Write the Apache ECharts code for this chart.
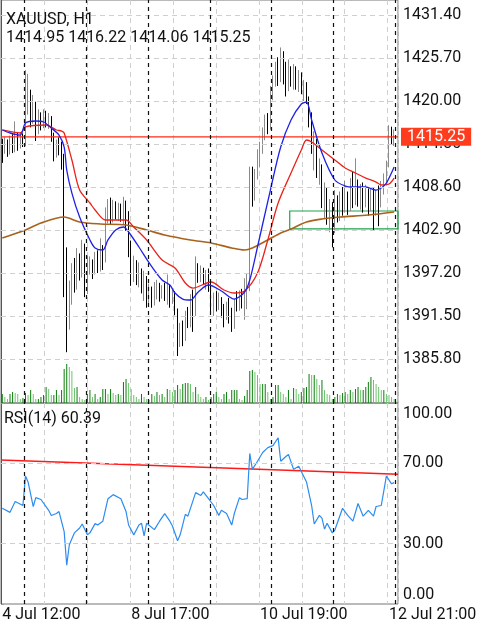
<!DOCTYPE html>
<html>
<head>
<meta charset="utf-8">
<title>XAUUSD, H1</title>
<script src="https://cdn.jsdelivr.net/npm/echarts@6/dist/echarts.min.js"></script>
<style>
    html, body { margin: 0; padding: 0; background: #fff; }
    #chart1 { width: 483px; height: 625px; }
</style>
</head>
<body>
<div id="chart1"></div>
<script>
var symbolName = 'XAUUSD, H1';
var days = ['4 Jul', '5 Jul', '8 Jul', '9 Jul', '10 Jul', '11 Jul', '12 Jul'];
var firstDayHours = [12, 20];      // 4 Jul only traded 12:00 - 20:00

// price axis labels
var priceTicks = [1385.80, 1391.50, 1397.20, 1402.90, 1408.60, 1414.30, 1420.00, 1425.70, 1431.40];
var rsiTicks = [0, 30, 70, 100];

// hourly bars
var opens = [1414.2,1413.6,1414.4,1413.2,1414.6,1413.8,1414.9,1414.2,1415.0,1414.6,
    1419.5,1420.8,1418.2,1419.6,1416.0,1417.9,1416.8,1418.3,1417.1,1417.8,
    1415.3,1413.2,1414.1,1413.4,1412.2,1396.5,1391.0,1394.6,1396.8,1395.5,
    1398.6,1397.0,1400.2,1396.0,1397.8,1398.6,1397.4,1398.8,1398.0,1399.6,
    1399.0,1404.5,1405.8,1404.6,1406.2,1405.0,1406.0,1404.8,1406.3,1405.1,
    1400.2,1397.6,1398.4,1396.5,1397.3,1395.2,1396.2,1393.8,1395.0,1393.4,
    1394.6,1395.6,1394.2,1395.1,1394.0,1395.4,1393.8,1394.5,1392.0,1388.0,
    1389.8,1388.6,1391.4,1390.6,1393.8,1392.0,1397.6,1396.4,1397.5,1396.2,
    1397.0,1395.4,1393.2,1394.0,1392.6,1393.7,1392.2,1391.4,1392.8,1392.0,
    1390.2,1393.2,1392.6,1394.2,1393.4,1394.8,1395.6,1409.8,1407.6,1410.2,
    1412.0,1413.8,1415.6,1417.4,1416.8,1420.6,1422.3,1424.9,1423.0,1425.9,
    1423.4,1421.6,1424.4,1422.8,1424.0,1422.2,1423.1,1421.4,1422.2,1420.2,
    1418.0,1413.8,1414.6,1410.4,1411.2,1406.6,1408.0,1405.0,1406.2,1403.0,
    1406.4,1404.6,1407.2,1405.6,1407.0,1405.8,1407.9,1406.6,1408.6,1407.2,
    1408.4,1406.4,1407.8,1406.0,1407.6,1405.2,1407.4,1406.2,1408.4,1409.2,
    1411.6,1416.0,1414.95];
var closes = [1413.6,1414.4,1413.2,1414.6,1413.8,1414.9,1414.2,1415.0,1414.6,1419.5,
    1420.8,1418.2,1419.6,1416.0,1417.9,1416.8,1418.3,1417.1,1417.8,1415.3,
    1413.2,1414.1,1413.4,1412.2,1396.5,1391.0,1394.6,1396.8,1395.5,1398.6,
    1397.0,1400.2,1396.0,1397.8,1398.6,1397.4,1398.8,1398.0,1399.6,1399.0,
    1404.5,1405.8,1404.6,1406.2,1405.0,1406.0,1404.8,1406.3,1405.1,1400.2,
    1397.6,1398.4,1396.5,1397.3,1395.2,1396.2,1393.8,1395.0,1393.4,1394.6,
    1395.6,1394.2,1395.1,1394.0,1395.4,1393.8,1394.5,1392.0,1388.0,1389.8,
    1388.6,1391.4,1390.6,1393.8,1392.0,1397.6,1396.4,1397.5,1396.2,1397.0,
    1395.4,1393.2,1394.0,1392.6,1393.7,1392.2,1391.4,1392.8,1392.0,1390.2,
    1393.2,1392.6,1394.2,1393.4,1394.8,1395.6,1409.8,1407.6,1410.2,1412.0,
    1413.8,1415.6,1417.4,1416.8,1420.6,1422.3,1424.9,1423.0,1425.9,1423.4,
    1421.6,1424.4,1422.8,1424.0,1422.2,1423.1,1421.4,1422.2,1420.2,1418.0,
    1413.8,1414.6,1410.4,1411.2,1406.6,1408.0,1405.0,1406.2,1403.0,1406.4,
    1404.6,1407.2,1405.6,1407.0,1405.8,1407.9,1406.6,1408.6,1407.2,1408.4,
    1406.4,1407.8,1406.0,1407.6,1405.2,1407.4,1406.2,1408.4,1409.2,1411.6,
    1416.0,1414.95,1415.25];
var lows = [1411.8,1413.0,1412.6,1412.9,1413.1,1413.2,1413.4,1413.7,1413.9,1414.0,
    1418.2,1416.5,1417.0,1414.7,1415.6,1416.1,1416.4,1416.5,1416.3,1414.6,
    1412.0,1412.5,1412.8,1410.9,1394.0,1386.7,1389.7,1393.0,1394.6,1395.0,
    1396.2,1396.6,1394.0,1394.4,1397.0,1396.4,1397.0,1397.2,1397.4,1397.6,
    1398.6,1403.8,1403.6,1403.9,1404.3,1404.1,1404.0,1403.6,1402.8,1399.3,
    1395.5,1396.0,1395.6,1395.3,1394.5,1393.5,1392.6,1393.0,1392.6,1392.9,
    1393.7,1393.4,1393.8,1393.5,1393.0,1392.6,1393.1,1391.6,1386.2,1387.4,
    1387.5,1388.2,1389.9,1390.0,1389.4,1391.5,1395.9,1396.0,1395.7,1395.0,
    1394.7,1392.0,1391.5,1392.1,1392.3,1391.3,1390.0,1391.0,1390.5,1389.4,
    1389.8,1392.1,1392.2,1392.5,1391.0,1392.4,1394.8,1406.0,1406.8,1409.6,
    1411.2,1413.0,1414.8,1415.6,1416.2,1420.1,1421.9,1422.0,1422.5,1422.2,
    1420.6,1421.3,1421.9,1421.5,1421.5,1421.2,1420.9,1420.0,1419.6,1416.5,
    1413.0,1410.8,1409.8,1408.9,1405.8,1404.4,1403.6,1402.6,1400.6,1402.5,
    1403.9,1404.1,1404.8,1405.2,1404.9,1405.4,1405.8,1406.2,1406.0,1405.6,
    1405.2,1405.9,1404.8,1405.4,1402.8,1404.8,1403.4,1405.9,1407.6,1408.8,
    1411.2,1414.3,1414.06];
var highs = [1415.0,1415.2,1414.9,1415.4,1415.6,1417.3,1415.8,1415.9,1415.7,1424.1,
    1423.6,1421.5,1420.8,1419.9,1418.9,1418.5,1418.9,1418.7,1418.4,1418.0,
    1415.8,1414.9,1415.2,1414.6,1413.0,1400.6,1396.2,1398.5,1399.2,1400.5,
    1399.8,1401.6,1401.1,1399.5,1399.4,1399.0,1400.0,1400.2,1401.8,1400.9,
    1405.9,1407.0,1407.2,1406.9,1406.7,1406.5,1406.4,1407.3,1406.8,1405.4,
    1401.5,1399.5,1398.9,1398.6,1397.8,1397.5,1396.8,1395.8,1395.4,1396.0,
    1396.3,1395.9,1395.6,1395.9,1397.0,1395.7,1395.0,1394.8,1392.5,1390.6,
    1390.9,1392.2,1392.7,1394.4,1395.0,1399.4,1398.5,1398.2,1397.9,1397.6,
    1397.8,1395.9,1394.6,1394.8,1394.6,1394.0,1393.1,1393.4,1393.9,1392.6,
    1393.8,1394.8,1394.9,1395.1,1396.5,1397.2,1411.3,1411.3,1411.0,1413.6,
    1414.6,1416.5,1418.2,1418.4,1422.0,1423.4,1425.2,1425.8,1427.1,1426.6,
    1425.2,1425.5,1424.6,1424.9,1424.6,1424.1,1423.8,1422.8,1422.5,1420.6,
    1418.5,1416.0,1415.0,1412.4,1411.6,1409.2,1408.5,1407.0,1406.6,1408.2,
    1407.5,1408.0,1408.6,1409.4,1408.0,1409.8,1410.6,1412.4,1409.6,1409.0,
    1409.2,1408.9,1408.4,1408.6,1408.6,1408.2,1408.8,1409.4,1410.4,1412.1,
    1416.8,1416.6,1416.22];
var volumes = [9,6,4,9,11,10,9,4,5,
    10,8,13,9,4,4,6,8,16,14,8,
    8,13,8,13,34,39,36,32,15,16,6,4,3,
    9,13,6,9,4,6,14,14,9,
    14,10,8,9,8,21,24,20,14,8,
    6,4,9,6,4,3,9,7,
    11,8,9,6,14,13,11,13,
    18,14,19,20,20,19,11,16,9,6,
    4,6,3,6,9,11,6,4,
    9,11,4,13,13,13,4,3,7,13,
    32,33,31,28,19,19,19,11,
    4,6,18,18,11,9,6,13,4,
    15,14,9,11,15,16,29,28,28,
    24,18,23,13,9,8,4,6,
    9,8,10,11,9,13,11,14,16,13,
    13,16,21,26,23,19,16,13,
    13,9,8,6,4];

// moving averages, read at some bars
var blueBar = [0,3,7,9,13,16,19,22,24,25,27,30,34,36,39,41,44,47,49,53,57,62,65,67,70,73,76,80,85,90,94,96,99,104,108,112,116,118,120,124,129,133,136,141,145,147,149,152];
var blueVal = [1416.16,1415.76,1415.49,1417.08,1417.35,1417.22,1416.42,1415.49,1413.90,1410.85,
    1407.80,1404.62,1401.58,1400.52,1400.25,1401.58,1402.90,1403.30,1402.64,1400.65,
    1398.53,1396.27,1395.61,1394.55,1393.75,1393.62,1394.68,1395.61,1394.81,1393.75,
    1394.68,1396.27,1400.65,1408.20,1413.90,1417.48,1419.60,1419.87,1417.48,1413.11,
    1409.53,1408.73,1408.60,1408.60,1408.20,1408.47,1409.13,1411.25];
var redBar = [0,7,9,17,21,23,24,27,30,34,36,40,44,48,51,56,62,67,71,74,81,86,90,94,99,103,107,112,116,118,120,125,129,133,137,141,145,147,150,152];
var redVal = [1416.16,1415.76,1416.56,1416.82,1416.16,1416.02,1415.76,1412.18,1408.20,1406.48,
    1405.55,1404.23,1404.23,1404.23,1403.30,1401.58,1398.92,1397.86,1395.88,1395.21,
    1396.01,1394.95,1394.55,1394.81,1397.20,1401.58,1406.48,1410.46,1413.51,1414.83,
    1414.57,1413.24,1412.18,1411.12,1410.46,1409.79,1409.26,1408.87,1409.00,1409.79];
var brownBar = [0,9,15,24,30,38,48,56,63,73,81,89,94,97,103,108,112,118,124,131,142,152];
var brownVal = [1401.84,1402.90,1403.83,1404.62,1403.96,1403.70,1403.56,1402.90,1402.24,1401.58,
    1401.18,1400.52,1400.25,1400.52,1401.58,1402.51,1403.04,1403.96,1404.36,1404.62,1404.89,1405.29];

// RSI(14)
var rsiBar = [0,3,5,8,9,10,12,13,15,18,19,21,22,24,25,26,28,30,31,33,
    34,36,37,39,41,43,46,48,49,51,53,54,55,56,59,61,63,65,66,68,
    69,71,72,75,77,78,80,82,84,85,87,89,90,92,93,95,96,97,99,101,
    103,105,107,108,110,111,113,115,118,120,121,123,124,125,126,128,129,132,134,136,
    138,140,142,144,145,147,148,149,151,152];
var rsiVal = [47.6,45.6,51,49,63.7,60.7,48.5,52.9,52,46.6,44,45,46,36,19.3,29.5,35.4,37.8,39.8,34.4,
    35.4,40,39.3,41.2,52.4,54.4,52.4,46,39.3,34.4,39.3,40.2,33.9,40.2,37,41.2,45,41.2,38.8,31.5,
    34.4,44.6,43.7,55.4,54,55.8,52.4,49,44.1,46.6,45,39.3,45,52.9,52,52.4,74.9,67,71,75.4,
    77.8,78.8,82.7,71,73.4,74.4,67,68.5,60.7,49,39.8,44.1,42.7,37.3,40.2,35.4,36.8,47.6,44.1,41.2,
    50,43.7,46.6,43.7,48.5,49,56.3,63.7,59.8,60.39];
var rsiTrendX = [0, 154];
var rsiTrendY = [71.6, 64.6];

// support zone (green box)
var zoneX = [112, 154];
var zoneY = [1403.04, 1405.42];

window.onload = function () {
    chart1Init();
};

function pad(n) {
    return n < 10 ? '0' + n : '' + n;
}

function pairs(bars, vals) {
    var d = [];
    for (var i = 0; i < bars.length; i++) {
        d.push([bars[i] + 0.5, vals[i]]);
    }
    return d;
}

function chart1Init() {
    var myChart1 = echarts.init(document.getElementById('chart1'));

    var cats = [];
    for (var h = firstDayHours[0]; h <= firstDayHours[1]; h++) cats.push(days[0] + ' ' + pad(h) + ':00');
    for (var d = 1; d < days.length; d++) {
        for (var h2 = 0; h2 < 24; h2++) cats.push(days[d] + ' ' + pad(h2) + ':00');
    }
    cats.push('13 Jul 00:00');   // empty slot at the right edge
    var nBars = cats.length;

    // day separators where a new day starts
    var daySep = [];
    for (var i = 1; i < cats.length; i++) {
        if (cats[i].indexOf(' 00:00') > 0) daySep.push(i);
    }

    var candles = [];
    var vols = [];
    for (var k = 0; k < closes.length; k++) {
        candles.push([opens[k], closes[k], lows[k], highs[k]]);
        vols.push({
            value: volumes[k],
            itemStyle: {color: (k > 0 && volumes[k] < volumes[k - 1]) ? '#6cc46c' : '#0b7d0b'}
        });
    }
    var last = closes.length - 1;
    var lastClose = closes[last];

    var font = 'Roboto';
    var headText = {fontSize: 16, fontWeight: 'normal', color: '#111', fontFamily: font};

    var blackDash = {color: '#111', type: [4, 4], width: 1.2};
    var greyDash = {color: '#cfcfcf', type: [5, 4], width: 1};
    var priceLine = {color: '#ff2a14', type: 'solid', width: 1.2};
    var noLine = {color: 'rgba(0,0,0,0)', width: 1};

    var rsiPanelTop = 403, rsiPanelPx = 201;
    var mainLines = [];
    priceTicks.forEach(function (p) { mainLines.push({yAxis: p, lineStyle: greyDash}); });
    daySep.forEach(function (x) { mainLines.push({xAxis: x, lineStyle: blackDash}); });
    var rsiLines = [];
    rsiTicks.slice(1, 3).forEach(function (p) { rsiLines.push({yAxis: p, lineStyle: greyDash}); });
    daySep.forEach(function (x) { rsiLines.push({xAxis: x, lineStyle: blackDash}); });
    // 100.00 is written just inside the top edge of the panel, as on the terminal
    rsiLines.push({yAxis: rsiTicks[3] - 11 * 100 / rsiPanelPx, lineStyle: noLine,
        label: {show: true, position: 'end', distance: 5, fontSize: 16, color: '#111', fontFamily: font,
            formatter: rsiTicks[3].toFixed(2)}});

    var option1 = {
        animation: false,
        textStyle: {fontFamily: font},
        title: [
            {text: symbolName, left: 6, top: 12, padding: 0, textStyle: headText},
            {
                text: [opens[last], highs[last], lows[last], closes[last]].map(function (v) { return v.toFixed(2); }).join(' '),
                left: 6, top: 30, padding: 0, textStyle: headText
            },
            {text: 'RSI(14) ' + rsiVal[rsiVal.length - 1].toFixed(2), left: 4, top: 411, padding: 0, textStyle: headText},
            // 0.00 sits just inside the bottom edge of the RSI panel
            {text: rsiTicks[0].toFixed(2), left: 403, top: rsiPanelTop + rsiPanelPx - 17, padding: 0, textStyle: headText}
        ],
        grid: [
            {left: 1, right: 85, top: 0, height: 403, show: true, borderColor: '#777', borderWidth: 1,
                containLabel: false, outerBoundsMode: 'none'},
            {left: 1, right: 85, top: 343, height: 60, containLabel: false, outerBoundsMode: 'none'},
            {left: 1, right: 85, top: rsiPanelTop, height: rsiPanelPx, show: true, borderColor: '#777', borderWidth: 1,
                containLabel: false, outerBoundsMode: 'none'}
        ],
        xAxis: [
            {type: 'category', gridIndex: 0, data: cats, show: false},
            {type: 'value', gridIndex: 0, min: 0, max: nBars, interval: 50 / 3,
                axisLine: {show: false}, axisTick: {show: false}, axisLabel: {show: false},
                splitLine: {show: true, lineStyle: greyDash}},
            {type: 'category', gridIndex: 1, data: cats, show: false},
            {type: 'category', gridIndex: 2, data: cats,
                axisLine: {show: false}, axisTick: {show: false},
                axisLabel: {
                    interval: function (idx) { return idx % 50 === 0; },
                    align: 'left', margin: 4, lineHeight: 14, fontSize: 16, color: '#111', fontFamily: font
                },
                splitLine: {show: false}},
            {type: 'value', gridIndex: 2, min: 0, max: nBars, interval: 50 / 3,
                axisLine: {show: false}, axisTick: {show: false}, axisLabel: {show: false},
                splitLine: {show: true, lineStyle: greyDash}}
        ],
        yAxis: [
            {type: 'value', gridIndex: 0, position: 'right', min: 1379.97, max: 1433.39,
                axisLine: {show: true, lineStyle: {color: '#555'}},
                axisTick: {show: true, length: 3, customValues: priceTicks, lineStyle: {color: '#999'}},
                axisLabel: {customValues: priceTicks, margin: 5, fontSize: 16, color: '#111', fontFamily: font,
                    formatter: function (v) { return v.toFixed(2); }},
                splitLine: {show: false}},
            {type: 'value', gridIndex: 1, min: 0, max: 60, show: false, splitLine: {show: false}},
            {type: 'value', gridIndex: 2, position: 'right', min: 0, max: 100,
                axisLine: {show: true, lineStyle: {color: '#555'}},
                axisTick: {show: true, length: 3, customValues: rsiTicks, lineStyle: {color: '#999'}},
                axisLabel: {customValues: rsiTicks.slice(1, 3), margin: 5, fontSize: 16, color: '#111', fontFamily: font,
                    formatter: function (v) { return v.toFixed(2); }},
                splitLine: {show: false}}
        ],
        series: [
            {
                // grid lines, separators and the zone box
                name: 'grid', type: 'line', xAxisIndex: 1, yAxisIndex: 0, z: 1,
                data: [[0, priceTicks[0]]], symbol: 'none', lineStyle: {opacity: 0},
                markLine: {silent: true, symbol: ['none', 'none'], label: {show: false}, data: mainLines},
                markArea: {
                    silent: true,
                    itemStyle: {color: 'rgba(0,0,0,0)', borderColor: '#1ea34b', borderWidth: 1.2},
                    data: [[{coord: [zoneX[0], zoneY[1]]}, {coord: [zoneX[1], zoneY[0]]}]]
                }
            },
            {
                name: 'Volume', type: 'bar', xAxisIndex: 2, yAxisIndex: 1,
                barWidth: 1, data: vols
            },
            {
                name: 'XAUUSD', type: 'candlestick', xAxisIndex: 0, yAxisIndex: 0,
                barWidth: 1.2, data: candles,
                itemStyle: {color: '#8a8a8a', color0: '#000', borderColor: '#8a8a8a', borderColor0: '#000', borderWidth: 1},
                markLine: {
                    silent: true, symbol: ['none', 'none'],
                    lineStyle: noLine,
                    label: {
                        show: true, position: 'end', distance: 3,
                        formatter: lastClose.toFixed(2),
                        backgroundColor: '#ff3d1e', color: '#fff', fontSize: 16, fontFamily: font,
                        padding: [1, 6, 1, 6]
                    },
                    data: [{yAxis: lastClose}]
                }
            },
            {
                // bid line
                name: 'bid', type: 'line', xAxisIndex: 1, yAxisIndex: 0, z: 3,
                data: [[0, lastClose], [nBars, lastClose]], symbol: 'none',
                lineStyle: priceLine
            },
            {name: 'MA brown', type: 'line', xAxisIndex: 1, yAxisIndex: 0, data: pairs(brownBar, brownVal),
                symbol: 'none', smooth: 0.3, lineStyle: {color: '#a9621b', width: 1.6}},
            {name: 'MA red', type: 'line', xAxisIndex: 1, yAxisIndex: 0, data: pairs(redBar, redVal),
                symbol: 'none', smooth: 0.3, lineStyle: {color: '#e8231a', width: 1.3}},
            {name: 'MA blue', type: 'line', xAxisIndex: 1, yAxisIndex: 0, data: pairs(blueBar, blueVal),
                symbol: 'none', smooth: 0.3, lineStyle: {color: '#1e22e6', width: 1.3}},
            {
                name: 'rsi grid', type: 'line', xAxisIndex: 4, yAxisIndex: 2, z: 1,
                data: [[0, 50]], symbol: 'none', lineStyle: {opacity: 0},
                markLine: {silent: true, symbol: ['none', 'none'], label: {show: false}, data: rsiLines}
            },
            {name: 'RSI trend', type: 'line', xAxisIndex: 4, yAxisIndex: 2,
                data: [[rsiTrendX[0], rsiTrendY[0]], [rsiTrendX[1], rsiTrendY[1]]],
                symbol: 'none', lineStyle: {color: '#ff1a1a', width: 1.5}},
            {name: 'RSI(14)', type: 'line', xAxisIndex: 4, yAxisIndex: 2, data: pairs(rsiBar, rsiVal),
                symbol: 'none', lineStyle: {color: '#2c8cf0', width: 1.2}}
        ]
    };

    myChart1.setOption(option1);
}
</script>
</body>
</html>
